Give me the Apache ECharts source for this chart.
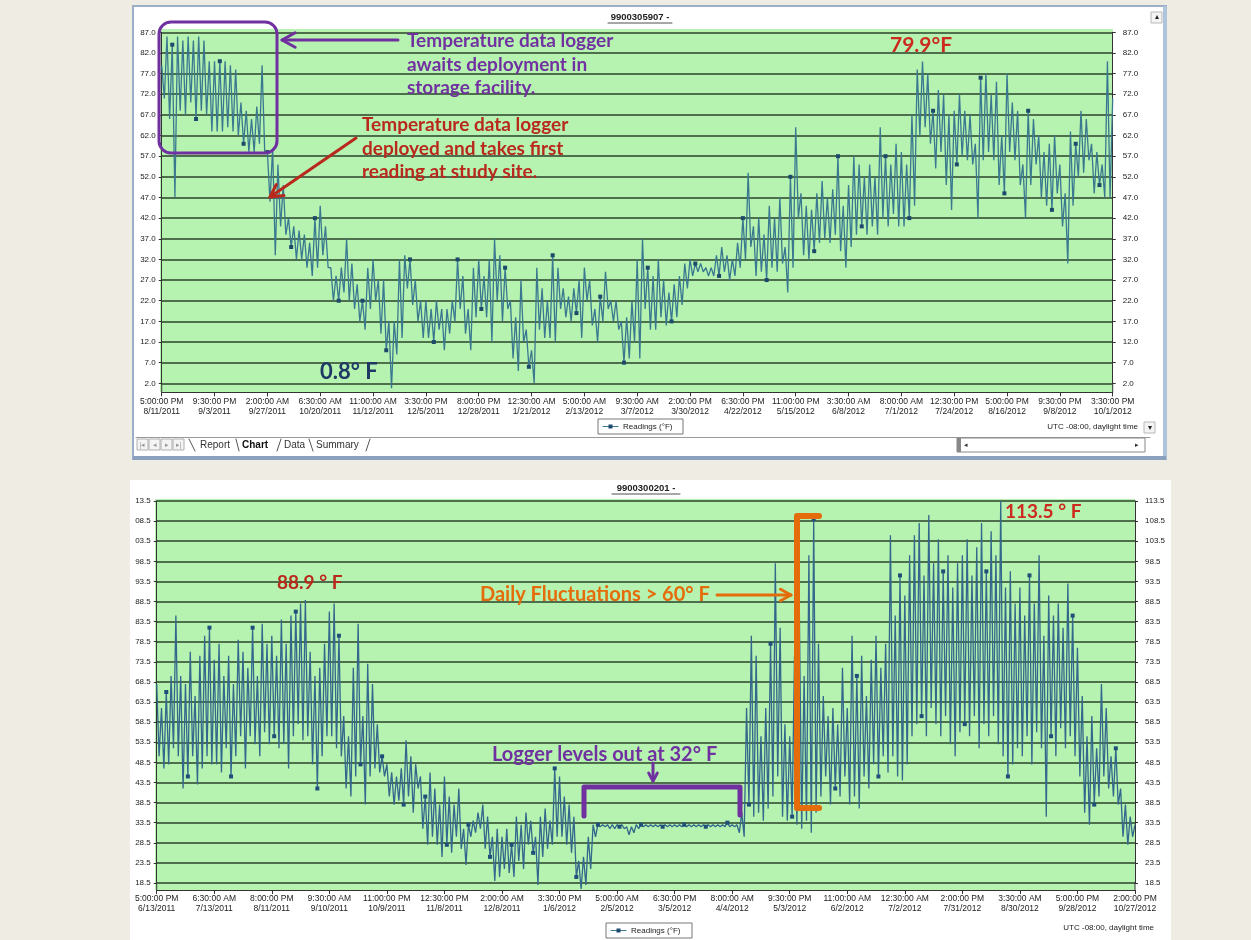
<!DOCTYPE html>
<html><head><meta charset="utf-8">
<script src="https://cdn.jsdelivr.net/npm/echarts@6/dist/echarts.min.js"></script>
<style>html,body{margin:0;padding:0;background:#efece3;}#c{width:1251px;height:940px;}</style>
</head><body><div id="c"></div>
<script>
// ---------- DATA ----------
const topTitle = '9900305907 -';
const botTitle = '9900300201 -';
const topTicks = ['5:00:00 PM\n8/11/2011','9:30:00 PM\n9/3/2011','2:00:00 AM\n9/27/2011','6:30:00 AM\n10/20/2011','11:00:00 AM\n11/12/2011','3:30:00 PM\n12/5/2011','8:00:00 PM\n12/28/2011','12:30:00 AM\n1/21/2012','5:00:00 AM\n2/13/2012','9:30:00 AM\n3/7/2012','2:00:00 PM\n3/30/2012','6:30:00 PM\n4/22/2012','11:00:00 PM\n5/15/2012','3:30:00 AM\n6/8/2012','8:00:00 AM\n7/1/2012','12:30:00 PM\n7/24/2012','5:00:00 PM\n8/16/2012','9:30:00 PM\n9/8/2012','3:30:00 PM\n10/1/2012'];
const botTicks = ['5:00:00 PM\n6/13/2011','6:30:00 AM\n7/13/2011','8:00:00 PM\n8/11/2011','9:30:00 AM\n9/10/2011','11:00:00 PM\n10/9/2011','12:30:00 PM\n11/8/2011','2:00:00 AM\n12/8/2011','3:30:00 PM\n1/6/2012','5:00:00 AM\n2/5/2012','6:30:00 PM\n3/5/2012','8:00:00 AM\n4/4/2012','9:30:00 PM\n5/3/2012','11:00:00 AM\n6/2/2012','12:30:00 AM\n7/2/2012','2:00:00 PM\n7/31/2012','3:30:00 AM\n8/30/2012','5:00:00 PM\n9/28/2012','2:00:00 PM\n10/27/2012'];
const topYMin = 2, topYMax = 87, topYStep = 5;
const botYMin = 18.5, botYMax = 113.5, botYStep = 5;

// top logger: high / low readings of each reading swing (10 swings per tick interval)
const topHigh = [
79,86,84,86,85,86,85,86,85,80,
80,80,80,79,78,70,68,66,69,79,
58,59,55,50,42,40,39,38,36,42,
45,40,30,28,30,37,31,26,22,30,
32,27,27,17,17,32,33,32,27,22,
22,20,22,20,20,22,32,28,20,30,
32,28,32,37,33,30,22,18,27,15,
10,30,25,22,33,30,25,23,25,27,
30,27,20,23,29,22,22,17,18,22,
32,37,30,28,32,27,24,26,28,31,
32,31,31,30,30,33,35,33,32,36,
42,53,40,42,38,45,42,47,35,52,
64,48,45,44,48,51,47,49,57,45,
50,57,55,52,55,52,64,57,55,60,
58,55,67,78,79.9,77,68,73,72,67,
68,72,68,67,60,76,77,72,75,62,
77,70,68,55,68,66,62,58,60,62,
55,48,63,60,68,66,60,58,55,80,
71];
const topLow = [
71,66,47,68,67,70,66,68,67,63,
63,63,64,63,62,60,58,58,60,58,
46,33,40,38,35,32,32,30,28,30,
33,30,22,22,24,22,20,17,15,20,
22,14,10,0.8,9,13,25,21,17,13,
13,12,15,10,14,17,20,14,10,18,
20,18,12,22,17,20,8,5,12,6,
2,15,13,13,12,20,18,17,19,13,
22,16,12,17,20,17,15,7,8,12,
8,20,15,15,18,16,17,18,21,25,
28,29,29,28,28,28,29,27,28,30,
32,35,28,29,27,30,29,31,24,30,
42,33,32,34,36,37,36,38,34,30,
35,38,40,38,40,38,42,40,43,40,
40,42,45,62,64,60,54,58,50,44,
55,57,56,55,42,56,58,56,50,48,
58,56,50,42,50,55,47,45,44,48,
40,31,45,52,53,56,48,50,47,47];

// bottom logger: high / low readings (12 swings per tick interval)
const botHigh = [
68,62,66,70,85,70,68,76,65,75,80,82,
74,78,70,75,68,79,76,72,82,70,83,78,
80,75,84,78,85,86,88,88.9,76,70,72,78,
86,88,80,60,55,72,83,60,73,68,58,50,
48,46,45,47,54,50,48,45,40,46,42,38,
45,40,38,42,32,33,34,36,38,35,30,32,
30,32,28,35,33,36,34,30,35,37,34,47,
45,40,38,35,24,25,30,33,33,33,33,33,
33,33,32.5,32.5,33,33,33,33,33,33,33,33,
33,33,33,33,33,33,33,33,33,33,33,33.5,
33,33,36,62,80,75,55,62,78,98,82,58,
55,75,87,70,100,109,78,65,60,62,58,72,
62,80,70,75,65,74,80,72,78,105,85,95,
90,100,105,108,95,110,98,104,96,100,92,98,
100,104,95,102,108,96,106,100,113.5,92,96,88,
92,85,95,88,100,80,90,85,88,82,93,85,
77,65,55,60,52,68,62,50,52,42,38,35,
33];
const botLow = [
50,47,48,52,50,42,45,50,43,47,50,48,
48,46,52,45,50,55,47,55,53,50,56,53,
55,52,53,47,55,58,54,55,48,42,50,55,
55,52,50,42,40,45,48,38,45,47,46,45,
40,38,39,38,40,36,42,32,28,30,28,25,
28,26,30,27,23,30,31,32,27,25,19,20,
22,21,20,24,22,28,26,18,25,27,28,30,
30,28,26,20,17,18,22,30,32.5,32.5,32,32,
32.5,32,30.5,31,32,32.5,32.5,32.5,32.5,32.5,32.5,32.5,
32.5,32.5,32.5,32.5,32.5,32.5,32.5,32.5,32.5,32.5,32.5,32.5,
32.5,31,30,38,35,36,34,37,40,45,35,34,
35,33,32,34,31,36,40,45,38,42,40,45,
38,40,37,45,42,48,45,50,46,50,45,44,
48,55,58,60,55,62,58,55,60,53,50,56,
58,55,60,52,58,55,60,53,50,45,48,52,
50,55,48,56,52,35,55,50,57,52,55,50,
45,36,33,38,40,45,42,40,38,30,28,30];

// ---------- BUILD ----------
function swings(hi, lo) {
  const out = [];
  for (let i = 0; i < lo.length; i++) { out.push(hi[i]); out.push(lo[i]); }
  out.push(hi[hi.length - 1]);
  return out;
}
function withMarkers(vals, every, off, color) {
  return vals.map((v, i) => (i % every === off)
    ? {value: v, symbol: 'rect', symbolSize: 4, itemStyle: {color: color}} : v);
}
const topVals = swings(topHigh, topLow);
const botVals = swings(botHigh, botLow);
const topPer = (topVals.length - 1) / (topTicks.length - 1);
const botPer = (botVals.length - 1) / (botTicks.length - 1);
const topCats = topVals.map((_, i) => String(i));
const botCats = botVals.map((_, i) => String(i));

const FONT = 'Liberation Sans';
const labStyle = {fontSize: 8.5, color: '#222', fontFamily: FONT};

function xAxisFor(grid, cats, per, ticks, offset) {
  return {
    type: 'category', gridIndex: grid, data: cats, boundaryGap: false, offset: offset,
    axisLine: {show: true, lineStyle: {color: '#333', width: 1}},
    axisTick: {show: true, interval: per - 1, length: 4, lineStyle: {color: '#333'}},
    axisLabel: Object.assign({interval: per - 1, margin: 4, lineHeight: 10,
      formatter: (v, idx) => (idx % per === 0 ? ticks[idx / per] : '')}, labStyle),
    splitLine: {show: false}
  };
}
function yAxisFor(grid, pos, mn, mx, step, fmt, margin, split) {
  return {
    type: 'value', gridIndex: grid, position: pos, min: mn, max: mx, interval: step,
    axisLine: {show: true, lineStyle: {color: '#333', width: 1}},
    axisTick: {show: true, length: 3, lineStyle: {color: '#333'}},
    axisLabel: Object.assign({margin: margin, formatter: fmt}, labStyle, {fontSize: 8}),
    splitLine: {show: split, lineStyle: {color: '#2a432b', width: 1.6}}
  };
}

// ---------- GRAPHICS HELPERS ----------
const G = [];
function rect(x, y, w, h, style, z, r) { G.push({type: 'rect', shape: {x, y, width: w, height: h, r: r || 0}, style, z: z, silent: true}); }
function line(pts, color, w, z) { G.push({type: 'polyline', shape: {points: pts}, style: {stroke: color, lineWidth: w, fill: null, lineJoin: 'round', lineCap: 'round'}, z: z || 100, silent: true}); }
function text(t, x, y, font, color, align, z) {
  G.push({type: 'text', x: x, y: y, style: {text: t, font: font, fill: color, textAlign: align || 'left', textVerticalAlign: 'middle'}, z: z || 101, silent: true});
}
function arrow(x1, y1, x2, y2, color, w, head) {
  line([[x1, y1], [x2, y2]], color, w);
  const a = Math.atan2(y2 - y1, x2 - x1);
  const p1 = [x2 - head * Math.cos(a - 0.5), y2 - head * Math.sin(a - 0.5)];
  const p2 = [x2 - head * Math.cos(a + 0.5), y2 - head * Math.sin(a + 0.5)];
  line([p1, [x2, y2], p2], color, w);
}

// panels
rect(133, 6, 1033, 453, {fill: '#ffffff', stroke: '#9bb0c8', lineWidth: 2}, -20);
rect(1163, 6, 4, 453, {fill: '#aec3dc'}, -19);
rect(133, 456, 1033, 4, {fill: '#8aa0bc'}, -19);
rect(130, 480, 1041, 460, {fill: '#ffffff'}, -20);
// plot backgrounds
rect(160, 29, 953, 363, {fill: '#b6f3b1'}, -10);
rect(155, 499, 980, 391, {fill: '#b6f3b1'}, -10);
// frame extensions of y axis lines down to the offset x axis
line([[161.7, 383], [161.7, 392]], '#333', 1, 1);
line([[1112.7, 383], [1112.7, 392]], '#333', 1, 1);
line([[156.7, 883], [156.7, 890]], '#333', 1, 1);
line([[1135, 883], [1135, 890]], '#333', 1, 1);

// titles
text(topTitle, 640, 17, 'bold 9.5px ' + FONT, '#222', 'center');
line([[608, 23], [672, 23]], '#222', 0.8);
text(botTitle, 646, 488, 'bold 9.5px ' + FONT, '#222', 'center');
line([[612, 494], [680, 494]], '#222', 0.8);

// legends
function legend(x, y, w) {
  rect(x, y, w, 15, {fill: '#fff', stroke: '#777', lineWidth: 1}, 50);
  line([[x + 5, y + 7.5], [x + 20, y + 7.5]], '#3b7893', 1, 51);
  rect(x + 10.5, y + 5.5, 4, 4, {fill: '#1d4a6a'}, 52);
  text('Readings (°F)', x + 25, y + 8, '8px ' + FONT, '#222', 'left', 52);
}
legend(598, 419, 85);
legend(606, 923, 86);
text('UTC -08:00, daylight time', 1138, 427, '8px ' + FONT, '#222', 'right');
text('UTC -08:00, daylight time', 1154, 928, '8px ' + FONT, '#222', 'right');

// tab bar and scroll bars of the top window
line([[136, 437.5], [1150, 437.5]], '#9a9a9a', 1, 5);
['|◂', '◂', '▸', '▸|'].forEach((s, i) => {
  rect(137 + i * 12, 439, 11, 11, {fill: '#f4f4f4', stroke: '#b0b0b0', lineWidth: 1}, 5);
  text(s, 142.5 + i * 12, 445, '7px ' + FONT, '#999', 'center', 6);
});
line([[189, 439], [195, 451]], '#555', 1, 6);
text('Report', 200, 445, '10px ' + FONT, '#333', 'left');
line([[236, 439], [239, 451]], '#555', 1, 6);
text('Chart', 242, 445, 'bold 10px ' + FONT, '#111', 'left');
line([[277, 451], [281, 439]], '#555', 1, 6);
text('Data', 284, 445, '10px ' + FONT, '#333', 'left');
line([[309, 439], [313, 451]], '#555', 1, 6);
text('Summary', 316, 445, '10px ' + FONT, '#333', 'left');
line([[366, 451], [370, 439]], '#555', 1, 6);
rect(957, 438, 188, 14, {fill: '#fff', stroke: '#888', lineWidth: 1}, 5);
rect(957, 438, 4, 14, {fill: '#888'}, 5);
text('◂', 966, 445, '7px ' + FONT, '#333', 'center');
text('▸', 1137, 445, '7px ' + FONT, '#333', 'center');
rect(1151, 12, 11, 11, {fill: '#f4f4f4', stroke: '#b8b8b8', lineWidth: 1}, 5);
text('▴', 1156.5, 17, '8px ' + FONT, '#222', 'center');
rect(1144, 422, 11, 11, {fill: '#f4f4f4', stroke: '#b8b8b8', lineWidth: 1}, 5);
text('▾', 1149.5, 428, '8px ' + FONT, '#222', 'center');

// annotations (top)
const PUR = '#7030a0', RED = '#b8281c', ORA = '#e46c0a';
const AF = 'Lato';
rect(159, 22, 118, 131, {fill: null, stroke: PUR, lineWidth: 3}, 100, 12);
arrow(398, 40, 282, 40, PUR, 3, 15);
text('Temperature data logger', 407, 41, 'bold 19px ' + AF, PUR);
text('awaits deployment in', 407, 65, 'bold 19px ' + AF, PUR);
text('storage facility.', 407, 88, 'bold 19px ' + AF, PUR);
text('Temperature data logger', 362, 125, 'bold 19px ' + AF, RED);
text('deployed and takes first', 362, 149, 'bold 19px ' + AF, RED);
text('reading at study site.', 362, 172, 'bold 19px ' + AF, RED);
arrow(356, 138, 270, 197, RED, 3, 14);
text('0.8° F', 320, 372, 'bold 22px ' + AF, '#1f3864');
text('79.9°F', 890, 45, 'bold 21px ' + AF, '#cc2a1e');
// annotations (bottom)
text('88.9 ° F', 277, 583, 'bold 19px ' + AF, RED);
text('113.5 ° F', 1005, 512, 'bold 19px ' + AF, '#cc2a1e');
text('Daily Fluctuations > 60° F', 480, 595, 'bold 20px ' + AF, ORA);
arrow(717, 595, 791, 595, ORA, 3, 12);
line([[819, 516], [797, 516], [797, 808], [819, 808]], ORA, 6);
text('Logger levels out at 32° F', 492, 755, 'bold 20px ' + AF, PUR);
arrow(653, 763, 653, 781, PUR, 3, 9);
line([[584, 816], [584, 787], [740, 787], [740, 815]], PUR, 5);

// ---------- CHART ----------
const chart = echarts.init(document.getElementById('c'), null, {renderer: 'canvas', width: 1251, height: 940});
chart.setOption({
  backgroundColor: '#efece3',
  animation: false,
  grid: [
    {left: 161.7, top: 32.3, width: 951, height: 351},
    {left: 156.7, top: 501, width: 978.3, height: 382}
  ],
  xAxis: [
    xAxisFor(0, topCats, topPer, topTicks, 9),
    xAxisFor(1, botCats, botPer, botTicks, 7)
  ],
  yAxis: [
    yAxisFor(0, 'left', topYMin, topYMax, topYStep, v => v.toFixed(1), 6, true),
    yAxisFor(0, 'right', topYMin, topYMax, topYStep, v => v.toFixed(1), 10, false),
    yAxisFor(1, 'left', botYMin, botYMax, botYStep, v => v.toFixed(1).slice(-4), 6, true),
    yAxisFor(1, 'right', botYMin, botYMax, botYStep, v => v.toFixed(1), 10, false)
  ],
  series: [
    {type: 'line', xAxisIndex: 0, yAxisIndex: 0, data: withMarkers(topVals, 9, 4, '#1d4a6a'),
     symbol: 'none', showSymbol: true, showAllSymbol: true, clip: false,
     lineStyle: {color: '#3a7890', width: 1.3}, itemStyle: {color: '#3a7890'}, z: 3},
    {type: 'line', xAxisIndex: 1, yAxisIndex: 2, data: withMarkers(botVals, 9, 4, '#1f4f78'),
     symbol: 'none', showSymbol: true, showAllSymbol: true, clip: false,
     lineStyle: {color: '#33678c', width: 1.3}, itemStyle: {color: '#33678c'}, z: 3}
  ],
  graphic: G
});
</script></body></html>
